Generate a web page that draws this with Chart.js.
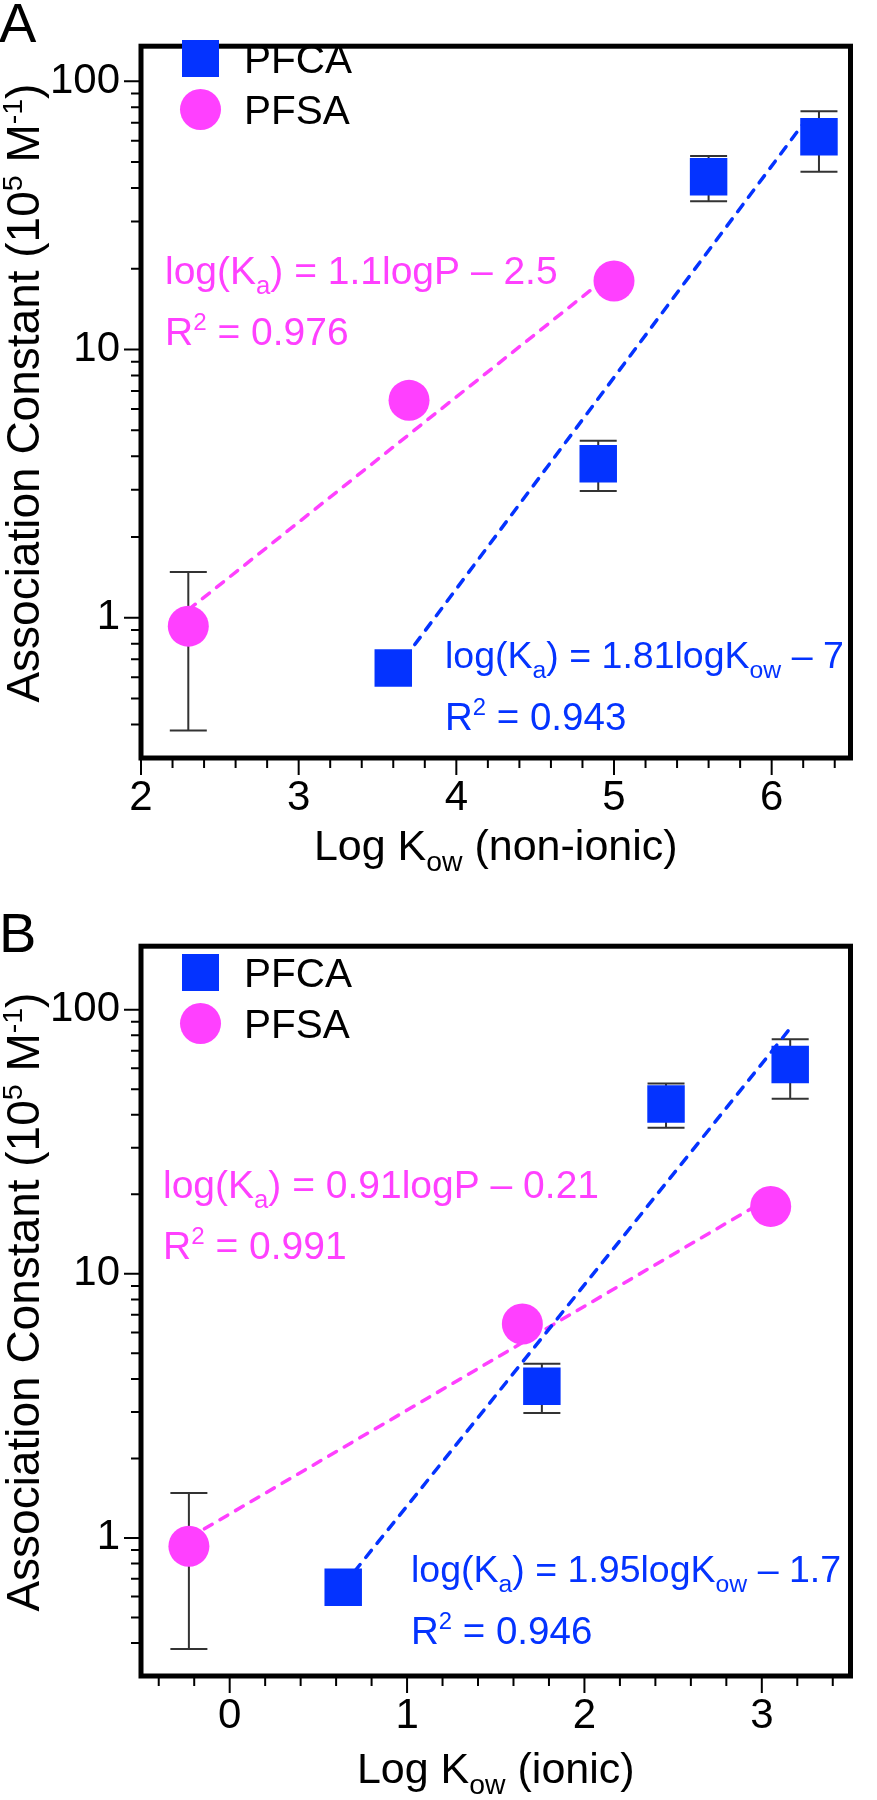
<!DOCTYPE html>
<html>
<head>
<meta charset="utf-8">
<script src="https://cdn.jsdelivr.net/npm/chart.js@4.4.1/dist/chart.umd.min.js"></script>
<style>
  html, body { margin: 0; padding: 0; background: #fff; }
  canvas { position: absolute; left: 0; }
</style>
</head>
<body>
<canvas id="panelA" width="877" height="900" style="top:0px"></canvas>
<canvas id="panelB" width="877" height="900" style="top:900px"></canvas>
<script>
const FONT = "'Liberation Sans', Arial, Helvetica, sans-serif";
const BLUE = "#0433ff";
const PINK = "#ff40ff";

const seriesNames = ["PFCA", "PFSA"];

// association constant (10^5 M^-1), same compounds in both panels
const pfcaKa = [0.65, 3.75, 44, 62];
const pfcaKaLow = [null, 2.97, 35.7, 46];
const pfcaKaHigh = [null, 4.57, 52.6, 77.3];
const pfsaKa = [0.93, 6.46, 18];
const pfsaKaLow = [0.38, null, null];
const pfsaKaHigh = [1.48, null, null];

// log Kow: panel A non-ionic, panel B ionic
const pfcaKowA = [3.6, 4.9, 5.6, 6.3];
const pfsaKowA = [2.3, 3.7, 5.0];
const pfcaKowB = [0.64, 1.76, 2.46, 3.16];
const pfsaKowB = [-0.23, 1.65, 3.05];

// regression lines (end points)
const pfcaFitKowA = [3.6, 6.2];
const pfcaFitKaA = [0.62, 69.4];
const pfsaFitKowA = [2.3, 5.0];
const pfsaFitKaA = [1.07, 19.5];
const pfcaFitKowB = [0.64, 3.15];
const pfcaFitKaB = [0.66, 83.4];
const pfsaFitKowB = [-0.23, 3.05];
const pfsaFitKaB = [1.0, 19.5];

// ticks
const yMajorTicks = [1, 10, 100];
const yMinorTicks = [0.4, 0.5, 0.6, 0.7, 0.8, 0.9, 2, 3, 4, 5, 6, 7, 8, 9, 20, 30, 40, 50, 60, 70, 80, 90];
const xMajorTicksA = [2, 3, 4, 5, 6];
const xMinorTicksA = [2.2, 2.4, 2.6, 2.8, 3.2, 3.4, 3.6, 3.8, 4.2, 4.4, 4.6, 4.8, 5.2, 5.4, 5.6, 5.8, 6.2, 6.4];
const xMajorTicksB = [0, 1, 2, 3];
const xMinorTicksB = [-0.4, -0.2, 0.2, 0.4, 0.6, 0.8, 1.2, 1.4, 1.6, 1.8, 2.2, 2.4, 2.6, 2.8, 3.2, 3.4];

// text (runs: [text, "sub" | "sup" | undefined])
const yTitle = [["Association Constant (10"], ["5", "sup"], [" M"], ["-1", "sup"], [")"]];
const xTitleA = [["Log K"], ["ow", "sub"], [" (non-ionic)"]];
const xTitleB = [["Log K"], ["ow", "sub"], [" (ionic)"]];
const eqPfsaA = [[["log(K"], ["a", "sub"], [") = 1.1logP \u2013 2.5"]], [["R"], ["2", "sup"], [" = 0.976"]]];
const eqPfcaA = [[["log(K"], ["a", "sub"], [") = 1.81logK"], ["ow", "sub"], [" \u2013 7"]], [["R"], ["2", "sup"], [" = 0.943"]]];
const eqPfsaB = [[["log(K"], ["a", "sub"], [") = 0.91logP \u2013 0.21"]], [["R"], ["2", "sup"], [" = 0.991"]]];
const eqPfcaB = [[["log(K"], ["a", "sub"], [") = 1.95logK"], ["ow", "sub"], [" \u2013 1.7"]], [["R"], ["2", "sup"], [" = 0.946"]]];

function runSize(mode, size) {
  return mode === "sub" ? size * 0.66 : mode === "sup" ? size * 0.62 : size;
}

function runsWidth(ctx, runs, size) {
  let w = 0;
  for (const [t, mode] of runs) {
    ctx.font = `${runSize(mode, size)}px ${FONT}`;
    w += ctx.measureText(t).width;
  }
  return w;
}

function drawRuns(ctx, runs, x, y, size, color, align) {
  ctx.fillStyle = color;
  ctx.textBaseline = "alphabetic";
  ctx.textAlign = "left";
  let cx = align === "center" ? x - runsWidth(ctx, runs, size) / 2 : x;
  for (const [t, mode] of runs) {
    ctx.font = `${runSize(mode, size)}px ${FONT}`;
    const dy = mode === "sub" ? size * 0.26 : mode === "sup" ? -size * 0.38 : 0;
    ctx.fillText(t, cx, y + dy);
    cx += ctx.measureText(t).width;
  }
}

function toPoints(xs, ys) {
  return xs.map((x, i) => ({ x: x, y: ys[i] }));
}

const decorPlugin = {
  id: "decor",
  beforeDatasetsDraw(chart) {
    const ctx = chart.ctx;
    const p = chart.options.plugins.decor;
    const xs = chart.scales.x, ys = chart.scales.y;
    ctx.save();
    ctx.strokeStyle = "#333";
    ctx.lineWidth = 2;
    for (const set of p.errors) {
      set.x.forEach((xv, i) => {
        if (set.low[i] == null) return;
        const px = xs.getPixelForValue(xv);
        const top = ys.getPixelForValue(set.high[i]);
        const bot = ys.getPixelForValue(set.low[i]);
        ctx.beginPath();
        ctx.moveTo(px, top); ctx.lineTo(px, bot);
        ctx.moveTo(px - 18.5, top); ctx.lineTo(px + 18.5, top);
        ctx.moveTo(px - 18.5, bot); ctx.lineTo(px + 18.5, bot);
        ctx.stroke();
      });
    }
    ctx.restore();
  },
  afterDraw(chart) {
    const ctx = chart.ctx;
    const p = chart.options.plugins.decor;
    const a = chart.chartArea;
    const xs = chart.scales.x, ys = chart.scales.y;
    ctx.save();

    // ticks
    ctx.strokeStyle = "#000";
    ctx.lineWidth = 2;
    ctx.beginPath();
    const tickY = (v, len) => {
      if (v < ys.min || v > ys.max) return;
      const py = ys.getPixelForValue(v);
      ctx.moveTo(a.left, py); ctx.lineTo(a.left - len, py);
    };
    const tickX = (v, len) => {
      if (v < xs.min || v > xs.max) return;
      const px = xs.getPixelForValue(v);
      ctx.moveTo(px, a.bottom); ctx.lineTo(px, a.bottom + len);
    };
    yMajorTicks.forEach(v => tickY(v, 17));
    yMinorTicks.forEach(v => tickY(v, 10));
    p.xMajor.forEach(v => tickX(v, 17));
    p.xMinor.forEach(v => tickX(v, 10));
    ctx.stroke();

    // frame
    ctx.lineWidth = 5;
    ctx.strokeRect(a.left, a.top, a.right - a.left, a.bottom - a.top);

    // legend
    ctx.fillStyle = BLUE;
    ctx.fillRect(182, p.legendY - 18.5, 37, 37);
    ctx.fillStyle = PINK;
    ctx.beginPath();
    ctx.arc(200.5, p.legendY + 51, 20.5, 0, Math.PI * 2);
    ctx.fill();
    drawRuns(ctx, [[seriesNames[0]]], 244, p.legendY + 14, 40.5, "#000");
    drawRuns(ctx, [[seriesNames[1]]], 244, p.legendY + 65, 40.5, "#000");

    // equations
    drawRuns(ctx, p.eqPink[0], p.eqPinkX, p.eqPinkY, 39, PINK);
    drawRuns(ctx, p.eqPink[1], p.eqPinkX, p.eqPinkY + 61, 39, PINK);
    drawRuns(ctx, p.eqBlue[0], p.eqBlueX, p.eqBlueY, 37.5, BLUE);
    drawRuns(ctx, p.eqBlue[1], p.eqBlueX, p.eqBlueY + 62, 38.5, BLUE);

    // axis titles
    drawRuns(ctx, p.xTitle, (a.left + a.right) / 2, p.xTitleY, 43, "#000", "center");
    ctx.save();
    ctx.translate(39, (a.top + a.bottom) / 2 - 9);
    ctx.rotate(-Math.PI / 2);
    drawRuns(ctx, yTitle, 0, 0, 46, "#000", "center");
    ctx.restore();

    // panel letter
    drawRuns(ctx, [[p.letter]], -1, p.letterY, p.letterSize, "#000");
    ctx.restore();
  }
};

function makePanel(id, cfg) {
  return new Chart(document.getElementById(id), {
    type: "scatter",
    data: {
      datasets: [
        {
          label: seriesNames[0],
          data: toPoints(cfg.pfcaKow, pfcaKa),
          pointStyle: "rect",
          pointRadius: 26.5,
          backgroundColor: BLUE,
          borderWidth: 0,
          order: 0,
        },
        {
          label: seriesNames[1],
          data: toPoints(cfg.pfsaKow, pfsaKa),
          pointStyle: "circle",
          pointRadius: 20.5,
          backgroundColor: PINK,
          borderWidth: 0,
          order: 0,
        },
        {
          label: "PFCA fit",
          data: toPoints(cfg.pfcaFitKow, cfg.pfcaFitKa),
          showLine: true,
          borderColor: BLUE,
          borderWidth: 3.5,
          borderDash: [9, 9],
          borderCapStyle: "round",
          pointRadius: 0,
          order: 1,
        },
        {
          label: "PFSA fit",
          data: toPoints(cfg.pfsaFitKow, cfg.pfsaFitKa),
          showLine: true,
          borderColor: PINK,
          borderWidth: 3.5,
          borderDash: [9, 9],
          borderCapStyle: "round",
          pointRadius: 0,
          order: 1,
        },
      ],
    },
    options: {
      responsive: false,
      animation: false,
      layout: { padding: { top: cfg.top, right: 5, left: 0, bottom: 0 } },
      scales: {
        x: {
          type: "linear",
          min: cfg.xMin,
          max: cfg.xMax,
          afterBuildTicks: (s) => { s.ticks = cfg.xMajor.map(v => ({ value: v })); },
          afterFit: (s) => { s.height = cfg.xAxisHeight; },
          grid: { display: true, drawOnChartArea: false, drawTicks: false, tickLength: 0 },
          border: { display: false },
          ticks: {
            autoSkip: false,
            maxRotation: 0,
            padding: 15,
            color: "#000",
            font: { family: FONT, size: 42 },
            callback: (v) => String(v),
          },
        },
        y: {
          type: "logarithmic",
          min: cfg.yMin,
          max: cfg.yMax,
          afterBuildTicks: (s) => { s.ticks = yMajorTicks.map(v => ({ value: v })); },
          afterFit: (s) => { s.width = 141; },
          grid: { display: true, drawOnChartArea: false, drawTicks: false, tickLength: 0 },
          border: { display: false },
          ticks: {
            autoSkip: false,
            padding: 21,
            color: "#000",
            font: { family: FONT, size: 42 },
            callback: (v) => String(v),
          },
        },
      },
      plugins: {
        legend: { display: false },
        tooltip: { enabled: false },
        decor: cfg.decor,
      },
    },
    plugins: [decorPlugin],
  });
}

makePanel("panelA", {
  pfcaKow: pfcaKowA,
  pfsaKow: pfsaKowA,
  pfcaFitKow: pfcaFitKowA, pfcaFitKa: pfcaFitKaA,
  pfsaFitKow: pfsaFitKowA, pfsaFitKa: pfsaFitKaA,
  xMin: 2, xMax: 6.5, yMin: 0.31, yMax: 135,
  xMajor: xMajorTicksA,
  top: 7, xAxisHeight: 142,
  decor: {
    xMajor: xMajorTicksA, xMinor: xMinorTicksA,
    errors: [
      { x: pfcaKowA, low: pfcaKaLow, high: pfcaKaHigh },
      { x: pfsaKowA, low: pfsaKaLow, high: pfsaKaHigh },
    ],
    legendY: 58.5,
    eqPink: eqPfsaA, eqPinkX: 165, eqPinkY: 284,
    eqBlue: eqPfcaA, eqBlueX: 445, eqBlueY: 668,
    xTitle: xTitleA, xTitleY: 860,
    letter: "A", letterY: 42, letterSize: 56,
  },
});

makePanel("panelB", {
  pfcaKow: pfcaKowB,
  pfsaKow: pfsaKowB,
  pfcaFitKow: pfcaFitKowB, pfcaFitKa: pfcaFitKaB,
  pfsaFitKow: pfsaFitKowB, pfsaFitKa: pfsaFitKaB,
  xMin: -0.5, xMax: 3.5, yMin: 0.31, yMax: 174,
  xMajor: xMajorTicksB,
  top: 21, xAxisHeight: 124,
  decor: {
    xMajor: xMajorTicksB, xMinor: xMinorTicksB,
    errors: [
      { x: pfcaKowB, low: pfcaKaLow, high: pfcaKaHigh },
      { x: pfsaKowB, low: pfsaKaLow, high: pfsaKaHigh },
    ],
    legendY: 72.5,
    eqPink: eqPfsaB, eqPinkX: 163, eqPinkY: 298,
    eqBlue: eqPfcaB, eqBlueX: 411, eqBlueY: 682,
    xTitle: xTitleB, xTitleY: 883,
    letter: "B", letterY: 52, letterSize: 56,
  },
});
</script>
</body>
</html>
